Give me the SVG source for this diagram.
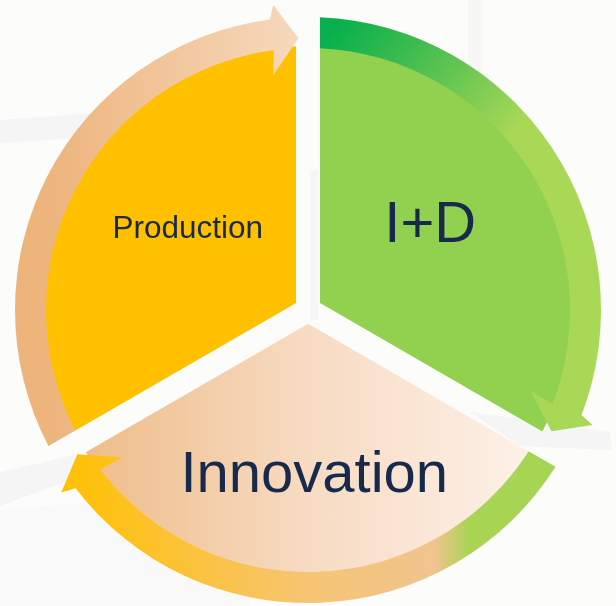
<svg xmlns="http://www.w3.org/2000/svg" width="616" height="606" viewBox="0 0 616 606">
  <style>
    .lbl { font-family: "Liberation Sans", Arial, sans-serif; fill: #182a4b; text-anchor: middle; }
    .bg { fill: #e4e7e7; }
  </style>
  <defs>
    <linearGradient id="gPeach" gradientUnits="userSpaceOnUse" x1="85" y1="0" x2="530" y2="0">
      <stop offset="0" stop-color="#efbd89"/>
      <stop offset="0.5" stop-color="#f7dbc2"/>
      <stop offset="1" stop-color="#fdf1e8"/>
    </linearGradient>
    <linearGradient id="gGreenBand" gradientUnits="userSpaceOnUse" x1="340" y1="20" x2="500" y2="150">
      <stop offset="0" stop-color="#07b04c"/>
      <stop offset="0.35" stop-color="#3dbb4f"/>
      <stop offset="1" stop-color="#a9d856"/>
    </linearGradient>
    <linearGradient id="gBottom" gradientUnits="userSpaceOnUse" x1="60" y1="0" x2="560" y2="0">
      <stop offset="0" stop-color="#ffc000"/>
      <stop offset="0.2" stop-color="#fcc22e"/>
      <stop offset="0.5" stop-color="#f6c574"/>
      <stop offset="0.75" stop-color="#efc48f"/>
      <stop offset="0.82" stop-color="#a9d553"/>
      <stop offset="1" stop-color="#a5d555"/>
    </linearGradient>
    <linearGradient id="gLeft" gradientUnits="userSpaceOnUse" x1="45" y1="0" x2="300" y2="0">
      <stop offset="0" stop-color="#edb47c"/>
      <stop offset="1" stop-color="#f7d9bd"/>
    </linearGradient>
  </defs>

  <rect width="616" height="606" fill="#fcfcfb"/>
  <g id="background" opacity="0.35">
    <polygon class="bg" points="0,120 95,113 95,137 0,143"/>
    <rect class="bg" x="468" y="0" width="14" height="80" opacity="0.5"/>
    <polygon class="bg" points="470,412 610,432 612,450 520,446"/>
    <polygon class="bg" points="0,472 75,455 75,478 0,506"/>
    <rect class="bg" x="310" y="170" width="8" height="150" opacity="0.7"/>
    <polygon class="bg" points="0,510 230,490 250,606 0,606" opacity="0.4"/>
  </g>

  <g id="node-production">
    <path d="M296,303.07 L296,46.27 A264 264 0 0 0 73.61,431.47 Z" fill="#ffc000"/>
    <text class="lbl" x="187.7" y="238.3" font-size="31.5">Production</text>
  </g>

  <g id="node-id">
    <path d="M320,303.07 L320,46.27 A264 264 0 0 1 542.39,431.47 Z" fill="#92d050"/>
    <text class="lbl" x="430.3" y="241.7" font-size="58">I+D</text>
  </g>

  <g id="node-innovation">
    <path d="M308,323.86 L530.39,452.26 A264 264 0 0 1 85.61,452.26 Z" fill="url(#gPeach)"/>
    <text class="lbl" x="314.3" y="491.7" font-size="58">Innovation</text>
  </g>

  <g id="connectors">
    <path id="arrow-id-to-innovation" d="M320,17.25 A293 293 0 0 1 581.54,415.00 L592.64,425.00 L551.42,431.37 L530.71,391.06 L552.60,403.89 A262 262 0 0 0 320,48.27 Z" fill="url(#gGreenBand)"/>
    <path id="arrow-innovation-to-production" d="M528.66,451.25 L555.53,466.77 A293 293 0 0 1 75.55,488.37 L61.22,492.61 L77.33,454.14 L122.52,457.53 L100.14,469.50 A262 262 0 0 0 528.66,451.25 Z" fill="url(#gBottom)"/>
    <path id="arrow-production-to-id" d="M75.34,430.47 L48.47,445.99 A293 293 0 0 1 269.76,19.51 L273.25,4.97 L298.51,38.17 L272.97,75.60 L273.80,50.24 A262 262 0 0 0 75.34,430.47 Z" fill="url(#gLeft)"/>
  </g>
</svg>
